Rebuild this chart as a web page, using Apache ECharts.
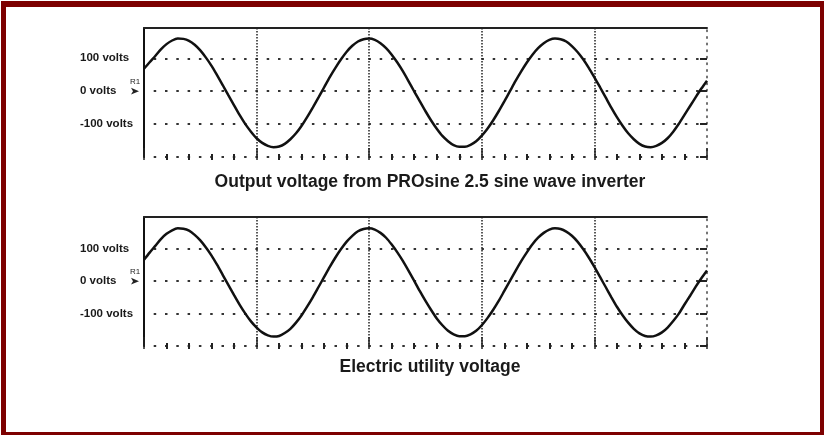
<!DOCTYPE html>
<html><head><meta charset="utf-8">
<script src="https://cdn.jsdelivr.net/npm/echarts@6/dist/echarts.min.js"></script>
<style>
html,body{margin:0;padding:0;background:#fff;}
#chart{position:absolute;left:0;top:0;width:825px;height:436px;}
#frame{position:absolute;left:1px;top:1px;width:823px;height:434px;box-sizing:border-box;border-style:solid;border-color:#7d0000;border-width:6px 4px 3px 5px;pointer-events:none;}
</style></head><body>
<div id="chart"></div><div id="frame"></div>
<script>
// time in oscilloscope divisions
const timeDiv = [0,0.05,0.1,0.15,0.2,0.25,0.3,0.35,0.4,0.45,0.5,0.55,0.6,0.65,0.7,0.75,0.8,0.85,0.9,0.95,
  1,1.05,1.1,1.15,1.2,1.25,1.3,1.35,1.4,1.45,1.5,1.55,1.6,1.65,1.7,1.75,1.8,1.85,1.9,1.95,
  2,2.05,2.1,2.15,2.2,2.25,2.3,2.35,2.4,2.45,2.5,2.55,2.6,2.65,2.7,2.75,2.8,2.85,2.9,2.95,
  3,3.05,3.1,3.15,3.2,3.25,3.3,3.35,3.4,3.45,3.5,3.55,3.6,3.65,3.7,3.75,3.8,3.85,3.9,3.95,
  4,4.05,4.1,4.15,4.2,4.25,4.3,4.35,4.4,4.45,4.5,4.55,4.6,4.65,4.7,4.75,4.8,4.85,4.9,4.95,5];
// volts
const inverterVolts = [68,88,107,127,143,154,160,159,153,141,124,102,77,48,18,-13,-43,-73,-100,-123,
  -143,-157,-166,-170,-168,-160,-146,-128,-105,-78,-49,-19,12,43,71,97,120,138,151,158,
  160,156,146,131,111,87,60,30,-1,-31,-61,-89,-114,-136,-152,-164,-169,-169,-163,-152,
  -135,-114,-89,-61,-31,0,31,60,87,111,131,146,156,160,158,151,137,119,97,71,
  42,12,-19,-50,-79,-105,-128,-146,-160,-168,-170,-166,-157,-143,-123,-99,-72,-45,-18,8,32];
const utilityVolts = [66,88,109,130,146,157,163,162,156,143,126,104,79,50,19,-12,-43,-73,-100,-124,
  -143,-158,-167,-171,-169,-160,-147,-128,-105,-78,-49,-18,13,44,73,99,122,140,154,161,
  163,159,149,134,113,89,62,32,1,-31,-61,-89,-115,-136,-153,-164,-170,-170,-164,-153,
  -136,-114,-89,-61,-30,1,32,62,89,114,134,149,159,163,161,153,140,122,99,73,
  44,13,-18,-49,-79,-105,-128,-147,-161,-169,-171,-167,-158,-143,-123,-100,-72,-45,-17,9,33];
const chartTitles = ['Output voltage from PROsine 2.5 sine wave inverter', 'Electric utility voltage'];
const yTickValues = [100, 0, -100];
const yTickLabels = ['100 volts', '0 volts', '-100 volts'];
const refMarkerLabel = 'R1';
const yMin = -200, yMaxes = [192, 198], yStep = 100;
const xMin = 0, xMax = 5, xStep = 1;

const FONT = 'Liberation Sans, Arial, sans-serif';
const grids = [
  {left:144, top:28, width:563, height:129},
  {left:144, top:217, width:563, height:129}
];
const seriesData = [inverterVolts, utilityVolts];

const xAxes = [], yAxes = [], series = [];
grids.forEach((g, i) => {
  xAxes.push({
    gridIndex:i, type:'value', min:xMin, max:xMax, interval:xStep, offset:3,
    axisLine:{show:false, onZero:false},
    axisTick:{show:true, inside:true, length:12, lineStyle:{color:'#222', width:1.5}},
    minorTick:{show:true, splitNumber:5, length:6, lineStyle:{color:'#222', width:2}},
    axisLabel:{show:false},
    splitLine:{show:true, showMinLine:false, showMaxLine:false, lineStyle:{type:[1.5,1.5], color:'#222', width:1.5}}
  });
  xAxes.push({
    gridIndex:i, type:'value', position:'top', min:xMin, max:xMax, interval:xStep,
    axisLine:{show:true, onZero:false, lineStyle:{color:'#222', width:2}},
    axisTick:{show:false}, axisLabel:{show:false}, splitLine:{show:false}
  });
  yAxes.push({
    gridIndex:i, type:'value', min:yMin, max:yMaxes[i], interval:yStep,
    axisLine:{show:true, onZero:false, lineStyle:{color:'#111', width:2}},
    axisTick:{show:false},
    axisLabel:{
      formatter: v => { const k = yTickValues.indexOf(v); return k >= 0 ? yTickLabels[k] : ''; },
      align:'left', margin:64, fontFamily:FONT, fontWeight:'bold', fontSize:11.5, color:'#1a1a1a',
      padding:[0,0,10,0]
    },
    splitLine:{show:true, lineStyle:{type:[2.5,8.8], dashOffset:1.6, color:'#333', width:2}}
  });
  yAxes.push({
    gridIndex:i, type:'value', position:'right', min:yMin, max:yMaxes[i], interval:yStep,
    axisLine:{show:true, onZero:false, lineStyle:{color:'#444', width:1.5, type:[1.5,5.1]}},
    axisTick:{show:true, inside:true, length:7, lineStyle:{color:'#222', width:2}},
    axisLabel:{show:false}, splitLine:{show:false}
  });
  series.push({
    type:'line', xAxisIndex:2*i, yAxisIndex:2*i,
    data: timeDiv.map((t, k) => [t, seriesData[i][k]]),
    smooth:0.25, showSymbol:false, animation:false,
    lineStyle:{color:'#111', width:2.5},
    markPoint:{
      silent:true, animation:false,
      symbol:'arrow', symbolSize:[5,8], symbolRotate:-90, symbolOffset:[-5,0],
      itemStyle:{color:'#222'},
      label:{show:true, formatter:refMarkerLabel, position:'top', distance:2, fontSize:8, fontFamily:FONT, color:'#222'},
      data:[{coord:[0,0]}]
    }
  });
});

const chart = echarts.init(document.getElementById('chart'), null, {renderer:'canvas'});
chart.setOption({
  backgroundColor:'#fff',
  animation:false,
  title: chartTitles.map((t, i) => ({
    text:t, left:425, top: i === 0 ? 168 : 353, textAlign:'center',
    textStyle:{fontFamily:FONT, fontWeight:'bold', fontSize:17.5, color:'#1a1a1a'}
  })),
  grid: grids,
  xAxis: xAxes,
  yAxis: yAxes,
  series: series
});
</script>
</body></html>
